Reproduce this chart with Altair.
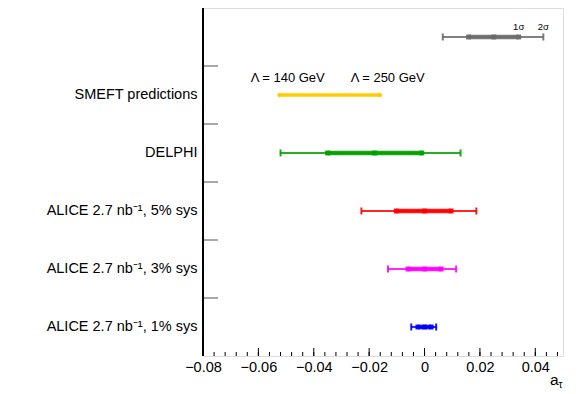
import altair as alt
import pandas as pd

# ---- data ----
legend_key = "legend"
rows = ["SMEFT predictions", "DELPHI", "ALICE 2.7 nb⁻¹, 5% sys",
        "ALICE 2.7 nb⁻¹, 3% sys", "ALICE 2.7 nb⁻¹, 1% sys"]

# interval rows: legend sample + measurements (2σ low, 1σ low, centre, 1σ high, 2σ high)
int_cats = [legend_key, "DELPHI", "ALICE 2.7 nb⁻¹, 5% sys",
            "ALICE 2.7 nb⁻¹, 3% sys", "ALICE 2.7 nb⁻¹, 1% sys"]
lo2 = [0.0066, -0.052, -0.0228, -0.0132, -0.0048]
lo1 = [0.0159, -0.035, -0.0102, -0.0060, -0.0024]
cen = [0.0250, -0.018, 0.0, 0.0, 0.0]
hi1 = [0.0340, -0.001, 0.0096, 0.0060, 0.0024]
hi2 = [0.0429, 0.013, 0.0187, 0.0114, 0.0042]
colors = ["#6a6a6a", "#00a000", "#ff0000", "#ff00ff", "#0000ff"]

# SMEFT prediction band
smeft_lambda = ["Λ = 140 GeV", "Λ = 250 GeV"]
smeft_vals = [-0.0523, -0.0162]
smeft_color = "#ffcc00"

sigma_labels = ["1σ", "2σ"]

x_ticks = [-0.08, -0.06, -0.04, -0.02, 0.0, 0.02, 0.04]
x_minor = [round(-0.08 + 0.004 * i, 3) for i in range(33)]

W, H = 360, 348
FONT = "Liberation Sans"

df = pd.DataFrame({"cat": int_cats, "lo2": lo2, "lo1": lo1, "c": cen,
                   "hi1": hi1, "hi2": hi2, "col": colors})
df_sm = pd.DataFrame({"cat": ["SMEFT predictions"] * 2, "v": smeft_vals,
                      "lab": smeft_lambda})
df_sm_line = pd.DataFrame({"cat": ["SMEFT predictions"], "a": [smeft_vals[0]],
                           "b": [smeft_vals[1]]})
df_sig = pd.DataFrame({"cat": [legend_key] * 2, "v": [hi1[0], hi2[0]],
                       "lab": sigma_labels})
df_ticks = pd.DataFrame({"cat": rows})
df_xt = pd.DataFrame({"v": x_ticks})
df_xm = pd.DataFrame({"v": x_minor})

domain = [legend_key] + rows
yscale = alt.Scale(domain=domain, paddingInner=0, paddingOuter=0)
yaxis = alt.Axis(title=None, ticks=False, domain=False, labelFontSize=14.5,
                 labelColor="black", labelPadding=6, labelFont=FONT,
                 labelExpr="datum.value == 'legend' ? '' : datum.value")
xscale = alt.Scale(domain=[-0.08, 0.05], nice=False, zero=False)
xaxis = alt.Axis(title=None, values=x_ticks, ticks=False, domain=False, grid=False,
                 labelFontSize=14.5, labelColor="black", labelPadding=4, labelFont=FONT,
                 labelFlush=False, labelOverlap=False,
                 labelExpr="datum.value == 0 ? '0' : format(datum.value, '.2f')")

Y = alt.Y("cat:N", scale=yscale, axis=yaxis, sort=domain)
colscale = alt.Scale(domain=int_cats, range=colors)
C = alt.Color("cat:N", scale=colscale, legend=None)

base = alt.Chart(df)

line2 = base.mark_rule(strokeWidth=2, opacity=0.85).encode(
    x=alt.X("lo2:Q", scale=xscale, axis=xaxis), x2="hi2:Q", y=Y, color=C)
line1 = base.mark_rule(strokeWidth=4.5, opacity=0.9).encode(
    x="lo1:Q", x2="hi1:Q", y=Y, color=C)
caps_l = base.mark_tick(orient="vertical", size=7, thickness=2, opacity=0.9).encode(
    x="lo2:Q", y=Y, color=C)
caps_r = base.mark_tick(orient="vertical", size=7, thickness=2, opacity=0.9).encode(
    x="hi2:Q", y=Y, color=C)
sq = []
for f in ["lo1", "c", "hi1"]:
    sq.append(base.mark_square(size=24, opacity=0.95).encode(
        x=f"{f}:Q", y=Y, color=C))

sm_line = alt.Chart(df_sm_line).mark_rule(strokeWidth=3.5, color=smeft_color).encode(
    x="a:Q", x2="b:Q", y=Y)
sm_pts = alt.Chart(df_sm).mark_circle(size=22, color=smeft_color, opacity=1).encode(
    x="v:Q", y=Y)
sm_txt = alt.Chart(df_sm).mark_text(fontSize=13, font=FONT, color="black",
                                    dx=8, dy=-17).encode(x="v:Q", y=Y, text="lab:N")
sig_txt = alt.Chart(df_sig).mark_text(fontSize=9.5, font=FONT, color="black",
                                      dy=-10).encode(x="v:Q", y=Y, text="lab:N")

yticks = alt.Chart(df_ticks).mark_rule(color="#555555", strokeWidth=1).encode(
    y=alt.Y("cat:N", scale=yscale, axis=yaxis, sort=domain, bandPosition=0),
    x=alt.value(0), x2=alt.value(15))
xmaj = alt.Chart(df_xt).mark_rule(color="black", strokeWidth=1).encode(
    x="v:Q", y=alt.value(H), y2=alt.value(H - 8))
xmin = alt.Chart(df_xm).mark_rule(color="black", strokeWidth=1).encode(
    x="v:Q", y=alt.value(H), y2=alt.value(H - 4))
left_frame = alt.Chart(df_xt).mark_rule(color="black", strokeWidth=1.5).encode(
    x=alt.value(0), y=alt.value(0), y2=alt.value(H))

title_a = alt.Chart(pd.DataFrame({"t": ["a"]})).mark_text(
    fontSize=15.5, font=FONT, color="black", align="left", baseline="middle").encode(
    x=alt.value(347), y=alt.value(H + 24), text="t:N")
title_tau = alt.Chart(pd.DataFrame({"t": ["τ"]})).mark_text(
    fontSize=10, font=FONT, color="black", align="left", baseline="middle").encode(
    x=alt.value(355.5), y=alt.value(H + 29), text="t:N")

chart = alt.layer(line2, line1, caps_l, caps_r, *sq, sm_line, sm_pts, sm_txt, sig_txt,
                  yticks, xmaj, xmin, left_frame, title_a, title_tau).properties(
    width=W, height=H,
    autosize=alt.AutoSizeParams(type="none"),
    padding={"left": 195, "top": 0, "right": 10, "bottom": 34},
    background="white",
).configure_view(stroke="black", strokeWidth=1.3).configure(font=FONT)

chart.save("out.html", embed_options={"renderer": "svg", "actions": False})
